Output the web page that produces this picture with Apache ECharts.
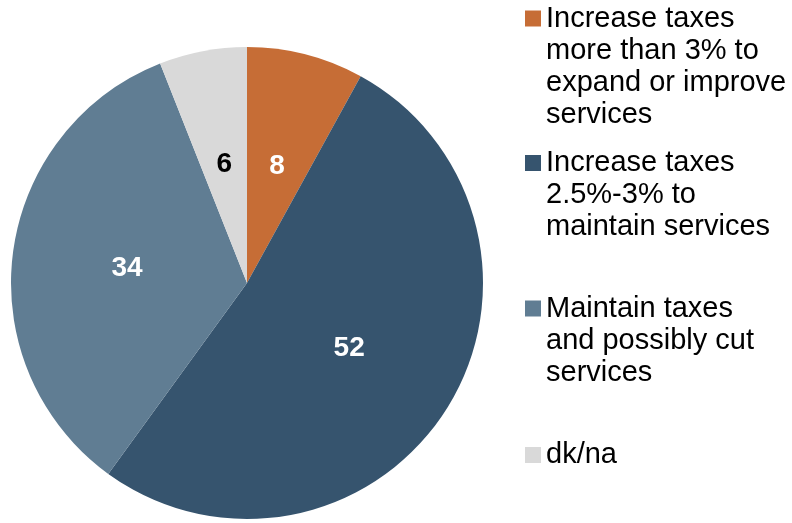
<!DOCTYPE html>
<html>
<head>
<meta charset="utf-8">
<script src="https://cdn.jsdelivr.net/npm/echarts@6/dist/echarts.min.js"></script>
<style>
html,body{margin:0;padding:0;background:#fff;}
#chart{width:792px;height:523px;}
</style>
</head>
<body>
<div id="chart"></div>
<script>
var categories = [
  "Increase taxes\nmore than 3% to\nexpand or improve\nservices",
  "Increase taxes\n2.5%-3% to\nmaintain services",
  "Maintain taxes\nand possibly cut\nservices",
  "dk/na"
];
var values = [8, 52, 34, 6];
var colors = ["#C66D36", "#36546E", "#607D93", "#D9D9D9"];
var labelColors = ["#ffffff", "#ffffff", "#ffffff", "#000000"];
var legendCenters = [18.5, 163, 308.5, 455];

var chart = echarts.init(document.getElementById('chart'), null, {renderer: 'canvas'});

var LH = 32;
var legends = categories.map(function (name, i) {
  var n = name.split("\n").length;
  var H = n * LH;
  // square marker at the top of a tall icon box so it lines up with the first text line
  var iconPath = 'path://M0,0 M16,' + H + ' M0,8 L16,8 L16,24 L0,24 Z';
  return {
    show: true,
    orient: 'vertical',
    left: 525,
    top: legendCenters[i] - LH / 2,
    padding: 0,
    itemWidth: 16,
    itemHeight: H,
    itemGap: 0,
    icon: iconPath,
    selectedMode: false,
    data: [{name: name, itemStyle: {color: colors[i]}}],
    textStyle: {
      fontFamily: 'Liberation Sans, Arial, sans-serif',
      fontSize: 29,
      lineHeight: LH,
      color: '#000000'
    }
  };
});

chart.setOption({
  animation: false,
  backgroundColor: '#ffffff',
  legend: legends,
  series: [{
    type: 'pie',
    center: [247, 283],
    radius: [0, 236],
    startAngle: 90,
    clockwise: true,
    silent: true,
    label: {
      show: true,
      position: 'inside',
      formatter: '{c}',
      fontFamily: 'Liberation Sans, Arial, sans-serif',
      fontSize: 28,
      fontWeight: 'bold'
    },
    labelLine: {show: false},
    itemStyle: {borderWidth: 0},
    emphasis: {disabled: true},
    data: categories.map(function (name, i) {
      return {
        name: name,
        value: values[i],
        itemStyle: {color: colors[i]},
        label: {color: labelColors[i]}
      };
    })
  }]
});
</script>
</body>
</html>
